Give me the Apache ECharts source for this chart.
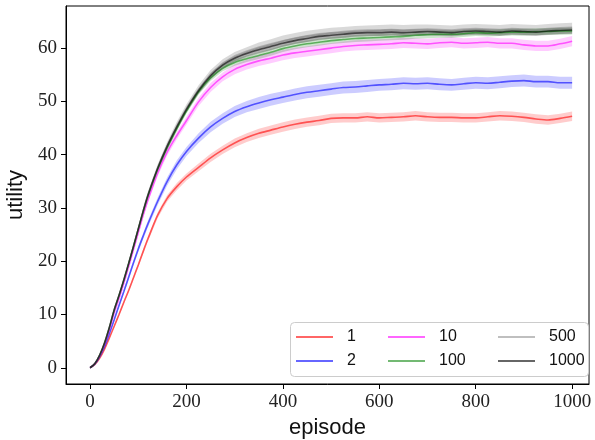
<!DOCTYPE html>
<html>
<head>
<meta charset="utf-8">
<script src="https://cdn.jsdelivr.net/npm/echarts@6/dist/echarts.min.js"></script>
<style>
html,body{margin:0;padding:0;background:#fff;}
#chart{width:595px;height:440px;}
</style>
</head>
<body>
<div id="chart"></div>
<script>
const episodes = [0,10,20,30,40,50,60,70,80,90,100,110,120,140,160,180,200,225,250,275,300,325,350,375,400,425,450,475,500,525,550,575,600,625,650,675,700,725,750,775,800,825,850,875,900,925,950,975,1000];

const util1 = [0,0.6,1.8,3.5,5.6,7.8,10.0,12.3,14.5,16.9,19.3,21.8,24.2,28.6,31.8,34.0,35.8,37.6,39.4,40.9,42.2,43.2,44.0,44.6,45.2,45.7,46.1,46.4,46.8,46.9,46.9,47.1,46.9,47.0,47.1,47.3,47.1,47.0,47.0,46.9,46.9,47.1,47.3,47.2,47.0,46.7,46.5,46.8,47.2];
const util2 = [0,0.7,2.1,4.0,6.4,9.0,11.7,14.3,17.0,19.7,22.3,24.7,27.0,31.2,35.0,38.1,40.6,43.1,45.2,46.8,48.1,49.0,49.7,50.3,50.8,51.3,51.7,52.0,52.3,52.6,52.7,52.9,53.1,53.2,53.4,53.3,53.4,53.2,53.1,53.3,53.5,53.4,53.6,53.8,53.9,53.7,53.7,53.5,53.5];
const util10 = [0,0.8,2.3,4.4,7.1,10.3,13.0,15.9,19.0,22.2,25.4,28.6,31.5,36.5,40.5,43.6,46.4,49.9,52.6,54.6,56.0,56.9,57.6,58.1,58.7,59.1,59.4,59.7,60.0,60.3,60.5,60.6,60.7,60.8,61.0,60.9,60.8,61.0,61.1,60.9,61.0,61.1,60.9,60.9,60.6,60.4,60.4,60.8,61.3];
const util100 = [0,0.8,2.4,4.6,7.5,10.8,13.5,16.4,19.5,22.7,26.0,29.2,32.2,37.2,41.3,44.9,48.2,51.8,54.4,56.2,57.3,58.0,58.6,59.2,59.9,60.4,60.8,61.1,61.4,61.6,61.8,61.9,62.0,62.1,62.2,62.4,62.5,62.6,62.6,62.7,62.9,62.8,62.9,63.0,63.0,63.1,63.1,63.2,63.2];
const util500 = [0,0.8,2.4,4.7,7.6,10.9,13.6,16.5,19.6,22.8,26.1,29.4,32.5,37.5,41.7,45.4,48.7,52.2,55.0,57.0,58.3,59.2,60.0,60.6,61.3,61.8,62.2,62.5,62.8,62.9,63.1,63.2,63.3,63.4,63.3,63.4,63.4,63.3,63.2,63.4,63.5,63.4,63.3,63.5,63.4,63.3,63.5,63.6,63.7];
const util1000 = [0,0.8,2.4,4.7,7.6,10.9,13.6,16.5,19.6,22.8,26.1,29.4,32.4,37.4,41.6,45.2,48.5,52.0,54.8,56.8,58.1,59.0,59.7,60.3,60.9,61.4,61.8,62.2,62.4,62.6,62.8,62.9,62.9,63.0,62.9,63.0,63.1,63.0,62.9,63.1,63.2,63.1,63.0,63.2,63.1,63.0,63.2,63.3,63.4];
// half width of the shaded band
const spread = [0,0.05,0.1,0.15,0.2,0.25,0.3,0.3,0.35,0.35,0.4,0.4,0.45,0.5,0.55,0.6,0.6,0.65,0.7,0.7,0.75,0.75,0.8,0.8,0.8,0.8,0.8,0.8,0.8,0.8,0.8,0.8,0.8,0.8,0.8,0.8,0.8,0.8,0.8,0.8,0.8,0.8,0.8,0.8,0.8,0.8,0.8,0.8,0.8];

const xTicks = [0,200,400,600,800,1000];
const yTicks = [0,10,20,30,40,50,60];

const seriesDefs = [
  {name:'1', data:util1, rgb:'255,0,0', la:0.6, ba:0.2, bs:1.1},
  {name:'2', data:util2, rgb:'0,0,255', la:0.6, ba:0.2, bs:1.4},
  {name:'10', data:util10, rgb:'255,0,255', la:0.6, ba:0.2, bs:1.2},
  {name:'100', data:util100, rgb:'0,128,0', la:0.55, ba:0.2, bs:0.8},
  {name:'500', data:util500, rgb:'128,128,128', la:0.5, ba:0.3, bs:1.3},
  {name:'1000', data:util1000, rgb:'0,0,0', la:0.6, ba:0.2, bs:0.8}
];

const series = [];
seriesDefs.forEach(function(d){
  const vals = d.data;
  series.push({
    type:'custom',
    name:'band_'+d.name,
    silent:true,
    data:[[0,0]],
    encode:{x:0,y:1},
    renderItem:function(params, api){
      if (params.dataIndex !== 0) return null;
      const pts = [];
      for (let i=0;i<episodes.length;i++) pts.push(api.coord([episodes[i], vals[i] + spread[i]*d.bs]));
      for (let i=episodes.length-1;i>=0;i--) pts.push(api.coord([episodes[i], vals[i] - spread[i]*d.bs]));
      return {type:'polygon', shape:{points:pts}, style:{fill:'rgba('+d.rgb+','+d.ba+')'}};
    },
    z:2
  });
});
seriesDefs.forEach(function(d){
  series.push({
    type:'line',
    name:d.name,
    data:episodes.map(function(e,i){return [e, d.data[i]];}),
    symbol:'none',
    smooth:0.3,
    lineStyle:{width:1.6, color:'rgba('+d.rgb+','+d.la+')'},
    itemStyle:{color:'rgba('+d.rgb+','+d.la+')'},
    z:3
  });
});

const legendBase = {
  orient:'vertical',
  icon:'rect',
  itemWidth:37,
  itemHeight:2,
  itemGap:8,
  padding:0,
  selectedMode:false,
  textStyle:{fontFamily:'Liberation Sans', fontSize:16, color:'#111', padding:[0,0,0,9], lineHeight:16},
  z:6
};

const chart = echarts.init(document.getElementById('chart'), null, {renderer:'canvas'});
chart.setOption({
  animation:false,
  backgroundColor:'#fff',
  grid:{left:66, right:6, top:6, bottom:56, show:true, borderColor:'#000', borderWidth:1, backgroundColor:'transparent',
    containLabel:false, outerBoundsMode:'none'},
  xAxis:{
    type:'value', min:-50, max:1035,
    name:'episode', nameLocation:'middle', nameGap:33,
    nameTextStyle:{fontFamily:'Liberation Sans', fontSize:22, color:'#111'},
    axisLine:{show:true, onZero:false, lineStyle:{color:'#000', width:1}},
    axisTick:{show:true, length:5, customValues:xTicks, lineStyle:{color:'#000'}},
    axisLabel:{customValues:xTicks, margin:9, fontFamily:'Liberation Serif', fontSize:19, color:'#222',
      formatter:function(v){return String(v);}},
    splitLine:{show:false}
  },
  yAxis:{
    type:'value', min:-3.05, max:67.9,
    name:'utility', nameLocation:'middle', nameGap:36, nameRotate:90,
    nameTextStyle:{fontFamily:'Liberation Sans', fontSize:22, color:'#111'},
    axisLine:{show:true, onZero:false, lineStyle:{color:'#000', width:1}},
    axisTick:{show:true, length:5, customValues:yTicks, lineStyle:{color:'#000'}},
    axisLabel:{customValues:yTicks, margin:9, fontFamily:'Liberation Serif', fontSize:19, color:'#222',
      formatter:function(v){return String(v);}},
    splitLine:{show:false}
  },
  legend:[
    Object.assign({}, legendBase, {data:['1','2'], left:296, top:329}),
    Object.assign({}, legendBase, {data:['10','100'], left:388, top:329}),
    Object.assign({}, legendBase, {data:['500','1000'], left:498, top:329})
  ],
  graphic:[{
    type:'rect', left:290, top:322, z:5,
    shape:{width:298, height:54, r:4},
    style:{fill:'rgba(255,255,255,0.85)', stroke:'#cccccc', lineWidth:1}
  }],
  series:series
});
</script>
</body>
</html>
